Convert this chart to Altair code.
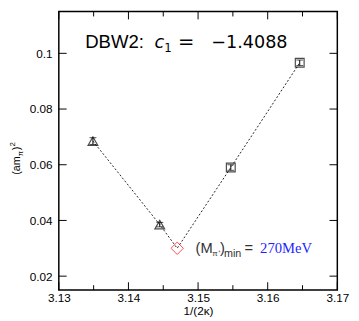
import altair as alt
import pandas as pd

# ---- data ----
tri_x = [3.1349, 3.1445]
tri_y = [0.0685, 0.0385]
tri_err = [0.0012, 0.0008]

sq_x = [3.1547, 3.1646]
sq_y = [0.0590, 0.0966]
sq_err = [0.0010, 0.0010]

dia_x = [3.1470]
dia_y = [0.0300]

x_major = [3.13, 3.14, 3.15, 3.16, 3.17]
x_minor = [3.135, 3.145, 3.155, 3.165]
y_major = [0.02, 0.04, 0.06, 0.08, 0.1]

W, H = 285, 285
XD = [3.13, 3.17]
YD = [0.015, 0.115]

tri = pd.DataFrame({"x": tri_x, "y": tri_y, "lo": [a - b for a, b in zip(tri_y, tri_err)],
                    "hi": [a + b for a, b in zip(tri_y, tri_err)]})
sq = pd.DataFrame({"x": sq_x, "y": sq_y, "lo": [a - b for a, b in zip(sq_y, sq_err)],
                   "hi": [a + b for a, b in zip(sq_y, sq_err)]})
dia = pd.DataFrame({"x": dia_x, "y": dia_y})
line_df = pd.DataFrame({"x": tri_x + dia_x + sq_x, "y": tri_y + dia_y + sq_y})

xs = alt.Scale(domain=XD, nice=False, zero=False)
ys = alt.Scale(domain=YD, nice=False, zero=False)

XA = alt.Axis(values=x_major, format=".2f", ticks=False, tickSize=0,
              domain=False, grid=False, labelFontSize=12, labelFont="Liberation Sans",
              labelColor="black", labelPadding=3, title=None, labelFlush=False)
YA = alt.Axis(values=y_major, format="~g", ticks=False, tickSize=0,
              domain=False, grid=False, labelFontSize=12, labelFont="Liberation Sans",
              labelColor="black", labelPadding=7, title=None, labelFlush=False)


def X(f="x"):
    return alt.X(f"{f}:Q", scale=xs, axis=XA, title=None)


def Y(f="y"):
    return alt.Y(f"{f}:Q", scale=ys, axis=YA, title=None)


line = alt.Chart(line_df).mark_line(color="#222", strokeWidth=1, strokeDash=[2, 2]).encode(x=X(), y=Y())


def errbars(df):
    r = alt.Chart(df).mark_rule(color="black", strokeWidth=1).encode(
        x=X(), y=Y("lo"), y2="hi:Q")
    c1 = alt.Chart(df).mark_tick(color="black", orient="horizontal", size=7, thickness=1).encode(
        x=X(), y=Y("lo"))
    c2 = alt.Chart(df).mark_tick(color="black", orient="horizontal", size=7, thickness=1).encode(
        x=X(), y=Y("hi"))
    return r + c1 + c2


tri_pts = alt.Chart(tri).mark_point(shape="triangle-up", size=100, filled=False, color="black",
                                    strokeWidth=1.2).encode(x=X(), y=Y())
sq_pts = alt.Chart(sq).mark_point(shape="square", size=81, filled=False, color="black",
                                  strokeWidth=1.2).encode(x=X(), y=Y())
dia_pts = alt.Chart(dia).mark_point(shape="diamond", size=160, filled=False, color="red",
                                    strokeWidth=1).encode(x=X(), y=Y())

# ---- inward ticks ----
xmaj = pd.DataFrame({"x": x_major})
xmin = pd.DataFrame({"x": x_minor})
ymaj = pd.DataFrame({"y": y_major})


def xticks(df, length):
    b = alt.Chart(df).mark_rule(color="black", strokeWidth=1).encode(
        x=X(), y=alt.value(H), y2=alt.value(H - length))
    t = alt.Chart(df).mark_rule(color="black", strokeWidth=1).encode(
        x=X(), y=alt.value(0), y2=alt.value(length))
    return b + t


def yticks(df, length):
    l = alt.Chart(df).mark_rule(color="black", strokeWidth=1).encode(
        y=Y(), x=alt.value(0), x2=alt.value(length))
    r = alt.Chart(df).mark_rule(color="black", strokeWidth=1).encode(
        y=Y(), x=alt.value(W), x2=alt.value(W - length))
    return l + r


ticks = xticks(xmaj, 8) + xticks(xmin, 5) + yticks(ymaj, 8)

# ---- text annotations ----
one = pd.DataFrame({"a": [0]})


def txt(s, x, y, size, font="Liberation Sans", color="black", style="normal", angle=0, align="left"):
    kw = dict(text=s, fontSize=size, font=font, color=color, align=align, baseline="alphabetic",
              fontStyle=style)
    if angle:
        kw["angle"] = angle
    return alt.Chart(one).mark_text(**kw).encode(x=alt.value(x), y=alt.value(y))


texts = (
    txt("DBW2:", 27, 37, 19)
    + txt("c", 98, 37, 18, font="DejaVu Sans", style="italic")
    + txt("1", 108, 41, 12, font="DejaVu Sans")
    + txt("=", 122, 37, 20, font="DejaVu Sans")
    + txt("\u22121.4088", 156, 37, 18, font="DejaVu Sans")
    + txt("(M", 140, 247, 15, color="#333")
    + txt("\u03c0\u207a", 157, 250, 8, color="#333")
    + txt(")", 165, 247, 15, color="#333")
    + txt("min", 169, 251, 11, color="#333")
    + txt("=", 190, 247, 15, color="#333")
    + txt("270MeV", 206, 247, 15, font="Liberation Serif", color="#1f1fff")
    + txt("1/(2\u03ba)", 143, 310, 12, align="center")
    + txt("(am", -40, 167, 11, angle=270)
    + txt("\u03c0", -37, 148, 8, angle=270)
    + txt(")", -40, 142, 11, angle=270)
    + txt("2", -45, 138, 8, angle=270)
)

chart = alt.layer(
    line, errbars(tri), errbars(sq), tri_pts, sq_pts, dia_pts, ticks, texts
).properties(
    width=W, height=H,
    autosize=alt.AutoSizeParams(type="none"),
    padding={"left": 52, "top": 0, "right": 14, "bottom": 28},
).configure_view(stroke="black", strokeWidth=1.5)

chart.save("out.html", embed_options={"renderer": "svg", "actions": False})
